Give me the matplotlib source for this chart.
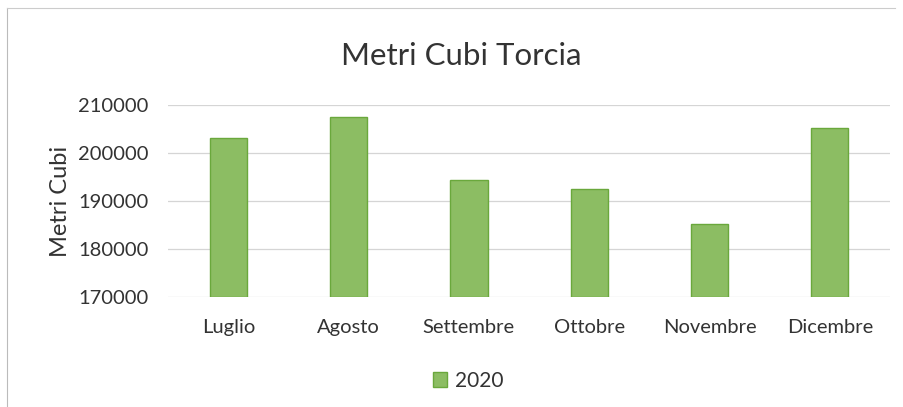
import matplotlib
matplotlib.use("Agg")
import matplotlib.pyplot as plt
from matplotlib.lines import Line2D

months = ["Luglio", "Agosto", "Settembre", "Ottobre", "Novembre", "Dicembre"]
values_2020 = [203100, 207500, 194300, 192600, 185300, 205300]
series_name = "2020"
y_ticks = [170000, 180000, 190000, 200000, 210000]

plt.rcParams['font.family'] = ['Lato', 'DejaVu Sans']

fig = plt.figure(figsize=(9.04, 4.07), dpi=100)
ax = fig.add_axes([0.186, 0.270, 0.7985, 0.472])

x = range(len(months))
ax.bar(x, [v - y_ticks[0] for v in values_2020], bottom=y_ticks[0], width=0.31,
       color="#8cbd63", edgecolor="#6aa83c", linewidth=1.0, label=series_name, zorder=3)

ax.set_xlim(-0.5, len(months) - 0.5)
ax.set_ylim(y_ticks[0], y_ticks[-1])
ax.set_yticks(y_ticks)
ax.set_yticklabels([str(t) for t in y_ticks])
ax.set_xticks(list(x))
ax.set_xticklabels(months)
ax.tick_params(axis='y', length=0, pad=14, labelsize=14.5, labelcolor="#333333")
ax.tick_params(axis='x', length=0, pad=16, labelsize=14.5, labelcolor="#333333")
ax.grid(axis='y', color="#d5d5d5", linewidth=0.9, zorder=0)
for s in ax.spines.values():
    s.set_visible(False)

ax.set_ylabel("Metri Cubi", fontsize=17, color="#333333", labelpad=5)

fig.text(0.51, 0.862, "Metri Cubi Torcia", ha="center", va="center", fontsize=22.5, color="#333333")

fig.legend(loc="center", bbox_to_anchor=(0.518, 0.064), frameon=False, fontsize=15,
           handlelength=0.7, handleheight=0.7, handletextpad=0.4, labelcolor="#333333")

fig.add_artist(Line2D([0.008, 0.008], [0.0, 0.98], transform=fig.transFigure,
                      color="#bbbbbb", linewidth=0.8))
fig.add_artist(Line2D([0.008, 0.99], [0.98, 0.98], transform=fig.transFigure,
                      color="#cccccc", linewidth=0.8))

fig.savefig("out.png", dpi=100)
